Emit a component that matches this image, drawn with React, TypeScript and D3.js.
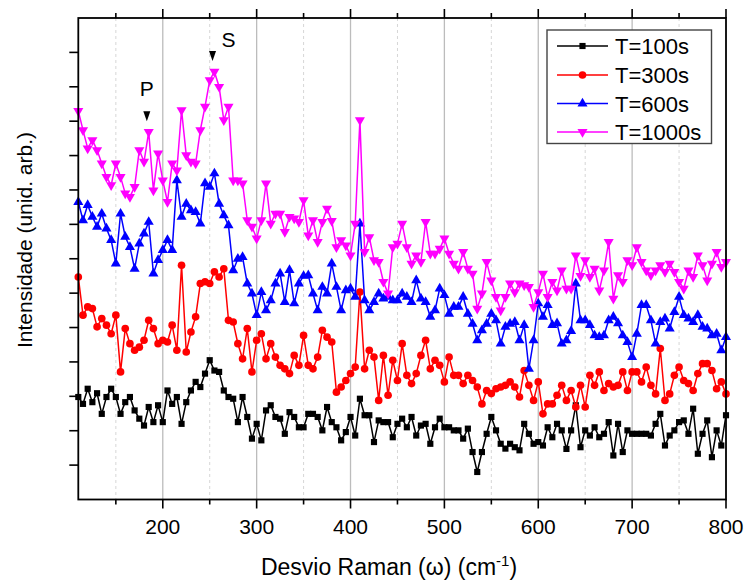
import React from "react";
import * as d3 from "d3";

// Raman shift grid (cm^-1)
const waveNumbers: number[] = d3.range(110, 801, 5);

const t100: number[] = [
  2.98, 2.78, 3.22, 2.83, 3.09, 2.49, 2.98, 3.22, 2.98, 2.49,
  2.83, 2.98, 2.59, 2.35, 2.15, 2.69, 2.25, 2.74, 2.25, 3.17,
  2.78, 2.98, 2.20, 2.83, 3.17, 3.42, 3.27, 3.66, 4.05, 3.75,
  3.71, 3.17, 2.98, 2.93, 2.25, 2.98, 2.40, 1.77, 2.20, 1.72,
  2.59, 2.74, 2.40, 2.35, 1.91, 2.54, 2.40, 2.10,
  2.10, 2.49, 2.49, 2.40, 2.01, 2.69, 2.25, 2.10, 1.72, 1.96,
  2.40, 1.86, 2.93, 2.45, 2.45, 1.67, 2.30, 2.25, 2.25, 1.81,
  2.20, 2.35, 2.10, 2.40, 1.86, 2.15, 2.20, 1.62, 2.10, 2.35,
  2.10, 2.10, 2.01, 2.01, 1.77, 2.06, 1.38, 0.80, 1.38, 1.91,
  2.40, 2.01, 1.62, 1.48, 1.62,
  1.52, 1.43, 2.20, 1.91, 1.62, 1.67, 1.57, 2.10, 1.81, 2.20,
  2.01, 1.47, 2.01, 2.74, 1.52, 2.01, 1.86, 2.10, 1.81, 1.91,
  2.25, 1.28, 2.20, 1.38, 2.01, 1.91, 1.91, 1.91, 1.91, 1.86,
  2.20, 2.49, 1.57, 1.86, 2.01, 2.25, 2.30, 1.91, 2.64, 1.33,
  1.91, 2.30, 1.23, 2.01, 1.57, 2.45,
];

const t300: number[] = [
  6.47, 5.36, 5.60, 5.55, 5.02, 5.26, 5.07, 4.82, 5.36, 3.71,
  4.97, 4.53, 4.34, 4.43, 4.63, 5.21, 4.97, 4.53, 4.63, 4.58,
  5.07, 4.34, 6.81, 4.29, 4.87, 5.31, 6.28, 6.33, 6.28, 6.62,
  6.47, 6.71, 5.21, 5.16, 4.53, 4.09, 4.97, 3.71, 4.63, 4.82,
  4.09, 4.53, 4.14, 3.90, 3.80, 3.66, 4.19, 3.90,
  4.77, 3.90, 3.80, 4.14, 4.92, 4.72, 4.58, 3.12, 3.27, 3.46,
  3.66, 3.85, 6.03, 3.80, 4.34, 4.14, 2.88, 4.19, 3.03, 4.05,
  3.46, 4.53, 3.61, 3.37, 3.66, 4.19, 4.63, 3.80, 4.05, 3.90,
  3.42, 4.14, 3.61, 3.61, 3.37, 3.61, 3.46, 3.27, 2.78, 3.17,
  3.08, 3.22, 3.27, 3.32, 3.42,
  3.27, 2.98, 3.75, 3.32, 2.88, 3.42, 2.49, 2.78, 2.78, 3.03,
  3.32, 2.88, 3.17, 2.69, 3.32, 2.69, 3.61, 3.32, 3.71, 3.17,
  3.37, 3.27, 3.32, 3.71, 3.17, 3.71, 3.71, 3.42, 3.85, 3.32,
  3.07, 4.39, 2.88, 3.07, 3.61, 3.85, 3.46, 3.37, 3.17, 3.66,
  3.95, 3.95, 3.75, 3.22, 3.42, 3.07,
];

const t600: number[] = [
  8.65, 8.12, 8.56, 8.22, 7.93, 8.31, 7.88, 7.54, 6.86, 8.31,
  7.64, 7.34, 6.71, 7.44, 7.73, 8.07, 6.57, 6.96, 7.25, 7.54,
  7.25, 9.28, 8.22, 8.60, 8.41, 8.36, 8.02, 9.19, 9.09, 9.48,
  8.60, 8.26, 7.97, 6.66, 7.00, 7.05, 6.28, 5.99, 5.36, 6.03,
  5.50, 5.79, 6.28, 6.57, 5.74, 6.67, 5.70, 6.28,
  6.50, 6.52, 5.99, 5.50, 6.18, 5.99, 6.86, 6.18, 5.50, 6.08,
  6.13, 5.89, 8.02, 5.79, 5.50, 5.74, 5.99, 5.84, 5.89, 5.79,
  5.79, 5.99, 5.89, 5.74, 6.37, 5.84, 5.74, 5.31, 5.50, 6.13,
  5.94, 5.40, 5.60, 5.60, 5.89, 5.40, 5.11, 4.63, 4.92, 5.11,
  5.40, 5.21, 4.53, 5.02, 5.11,
  5.16, 4.63, 5.07, 3.80, 4.63, 5.70, 5.31, 5.65, 5.07, 5.12,
  4.53, 4.63, 4.90, 6.28, 5.21, 5.21, 5.07, 4.77, 4.72, 4.77,
  5.21, 5.31, 5.12, 4.77, 4.58, 4.14, 4.82, 5.65, 5.65, 5.21,
  4.53, 5.16, 5.26, 4.97, 5.45, 5.89, 5.36, 5.26, 5.16, 5.36,
  5.02, 4.97, 4.77, 4.82, 4.34, 4.72,
];

const t1000: number[] = [
  11.30, 10.74, 10.21, 10.45, 10.16, 9.77, 9.38, 9.14, 9.77, 9.38,
  8.90, 8.80, 9.09, 10.16, 9.82, 10.69, 8.99, 10.06, 9.28, 8.65,
  9.77, 9.57, 11.32, 10.01, 9.82, 9.77, 10.74, 11.42, 12.19, 12.44,
  12.00, 11.03, 11.42, 9.28, 9.28, 9.19, 8.12, 7.93, 7.59, 8.12,
  9.19, 8.02, 8.31, 8.31, 7.78, 8.22, 8.17, 8.07,
  8.70, 7.68, 8.12, 7.49, 8.07, 8.46, 8.10, 7.34, 7.54, 7.39,
  7.10, 8.02, 11.03, 7.20, 7.63, 6.96, 6.91, 6.33, 5.99, 7.34,
  7.44, 8.02, 7.34, 6.86, 7.10, 6.91, 8.07, 7.15, 7.15, 7.29,
  7.59, 7.15, 6.86, 6.71, 7.20, 6.71, 6.57, 5.55, 5.99, 6.91,
  6.37, 5.89, 5.50, 5.89, 6.28,
  6.03, 6.28, 6.23, 6.18, 5.60, 6.03, 6.57, 5.89, 6.33, 6.08,
  6.66, 6.13, 6.13, 7.10, 6.50, 6.96, 6.47, 6.71, 6.08, 6.66,
  7.49, 5.84, 6.52, 6.33, 6.96, 6.81, 7.34, 6.91, 6.66, 6.52,
  6.66, 6.81, 6.62, 6.86, 6.62, 6.33, 6.13, 6.66, 6.47, 7.10,
  6.81, 6.37, 6.86, 7.20, 6.76, 6.91,
];

const seriesNames: string[] = ["T=100s", "T=300s", "T=600s", "T=1000s"];
const seriesValues: number[][] = [t100, t300, t600, t1000];
const seriesColors: string[] = ["#000000", "#ff0000", "#0000ff", "#ff00ff"];
const seriesMarkers: string[] = ["square", "circle", "triangleUp", "triangleDown"];

const xMajorTicks: number[] = [200, 300, 400, 500, 600, 700, 800];
const xMinorTicks: number[] = [150, 250, 350, 450, 550, 650, 750];
const yTicks: number[] = d3.range(1, 14);

// Peak annotations (P and S)
const peakLabels: string[] = ["P", "S"];
const peakX: number[] = [183, 253];
const peakY: number[] = [11.0, 12.75];

const W = 747;
const H = 583;
const M = { left: 78.3, right: 726, top: 18, bottom: 499.5 };
const FONT = "'Liberation Sans', Arial, Helvetica, sans-serif";

function markerPath(kind: string): string {
  const sym = d3.symbol();
  if (kind === "square") return sym.type(d3.symbolSquare).size(38)() as string;
  if (kind === "circle") return sym.type(d3.symbolCircle).size(46)() as string;
  return sym.type(d3.symbolTriangle).size(44)() as string;
}

export default function App() {
  const x = d3.scaleLinear().domain([110, 800]).range([M.left, M.right]);
  const y = d3.scaleLinear().domain([0, 14]).range([M.bottom, M.top]);

  const line = d3
    .line<[number, number]>()
    .x((d) => x(d[0]))
    .y((d) => y(d[1]));

  const legendRowsY = [46, 75, 103.5, 132];

  return (
    <svg
      width={W}
      height={H}
      style={{ position: "absolute", left: 0, top: 0, background: "#fff" }}
      fontFamily={FONT}
    >
      <rect x={0} y={0} width={W} height={H} fill="#fff" />
      {/* grid */}
      {xMinorTicks.map((t) => (
        <line key={"gm" + t} x1={x(t)} x2={x(t)} y1={M.top} y2={M.bottom}
          stroke="#d6d6d6" strokeWidth={1} strokeDasharray="3,3" />
      ))}
      {xMajorTicks.filter((t) => t < 800).map((t) => (
        <line key={"gM" + t} x1={x(t)} x2={x(t)} y1={M.top} y2={M.bottom}
          stroke="#bcbcbc" strokeWidth={1.3} />
      ))}

      {/* series */}
      {seriesValues.map((vals, i) => {
        const pts: [number, number][] = waveNumbers.map((w, j) => [w, vals[j]]);
        const mp = markerPath(seriesMarkers[i]);
        const rot = seriesMarkers[i] === "triangleDown" ? 180 : 0;
        return (
          <g key={"s" + i}>
            <path d={line(pts) as string} fill="none" stroke={seriesColors[i]} strokeWidth={1.5} />
            {pts.map((p, j) => (
              <path key={j} d={mp} fill={seriesColors[i]}
                transform={`translate(${x(p[0])},${y(p[1])}) rotate(${rot})`} />
            ))}
          </g>
        );
      })}

      {/* frame */}
      <rect x={M.left} y={M.top} width={M.right - M.left} height={M.bottom - M.top}
        fill="none" stroke="#000" strokeWidth={1.8} />

      {/* bottom ticks */}
      {xMajorTicks.map((t) => (
        <line key={"bt" + t} x1={x(t)} x2={x(t)} y1={M.bottom} y2={M.bottom + 9} stroke="#000" strokeWidth={1.6} />
      ))}
      {xMinorTicks.map((t) => (
        <line key={"btm" + t} x1={x(t)} x2={x(t)} y1={M.bottom} y2={M.bottom + 5} stroke="#000" strokeWidth={1.6} />
      ))}
      {/* top ticks */}
      {xMajorTicks.map((t) => (
        <line key={"tt" + t} x1={x(t)} x2={x(t)} y1={M.top} y2={M.top - 9} stroke="#000" strokeWidth={1.6} />
      ))}
      {xMinorTicks.map((t) => (
        <line key={"ttm" + t} x1={x(t)} x2={x(t)} y1={M.top} y2={M.top - 5} stroke="#000" strokeWidth={1.6} />
      ))}
      {/* left ticks */}
      {yTicks.map((t) => (
        <line key={"lt" + t} x1={M.left - 9} x2={M.left} y1={y(t)} y2={y(t)} stroke="#000" strokeWidth={1.6} />
      ))}

      {/* x tick labels */}
      {xMajorTicks.map((t) => (
        <text key={"xl" + t} x={x(t)} y={534} textAnchor="middle" fontSize={21} fill="#000">
          {t}
        </text>
      ))}

      {/* axis titles */}
      <text x={389} y={575} textAnchor="middle" fontSize={23} fill="#000">
        Desvio Raman (ω) (cm
        <tspan dy={-9} fontSize={15}>-1</tspan>
        <tspan dy={9}>)</tspan>
      </text>
      <text transform="translate(32,240) rotate(-90)" textAnchor="middle" fontSize={21} fill="#000">
        Intensidade (unid. arb.)
      </text>

      {/* peak annotations */}
      {peakLabels.map((lab, i) => {
        const px = x(peakX[i]);
        const py = y(peakY[i]);
        return (
          <g key={"pk" + lab}>
            <path d={`M${px - 3.5},${py - 10} L${px + 3.5},${py - 10} L${px},${py} Z`} fill="#000" />
            <text
              x={lab === "P" ? px : px + 16}
              y={lab === "P" ? py - 25 : py - 14}
              textAnchor="middle" fontSize={21} fill="#000">
              {lab}
            </text>
          </g>
        );
      })}

      {/* legend */}
      <rect x={547} y={30} width={164.5} height={113.5} fill="#fff" stroke="#444" strokeWidth={1.4} />
      {seriesNames.map((n, i) => {
        const ly = legendRowsY[i];
        const mp = markerPath(seriesMarkers[i]);
        const rot = seriesMarkers[i] === "triangleDown" ? 180 : 0;
        return (
          <g key={"lg" + i}>
            <line x1={557} x2={608} y1={ly} y2={ly} stroke={seriesColors[i]} strokeWidth={1.4} />
            <path d={mp} fill={seriesColors[i]} transform={`translate(582.5,${ly}) rotate(${rot})`} />
            <text x={615} y={ly + 8} fontSize={22} fill="#000">{n}</text>
          </g>
        );
      })}
    </svg>
  );
}
